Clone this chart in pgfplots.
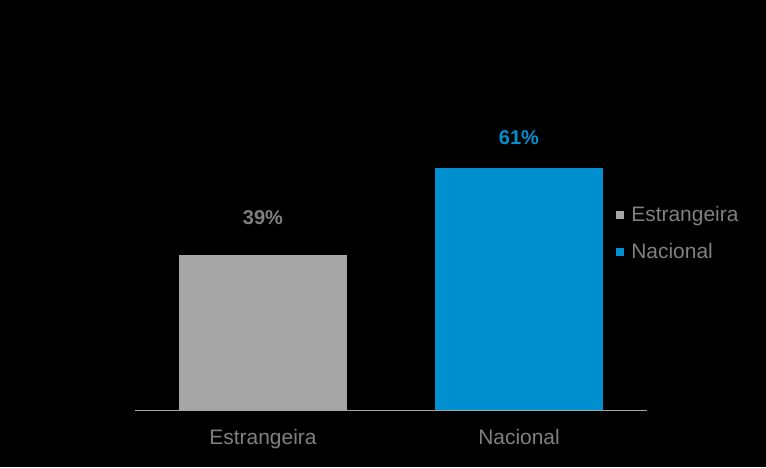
\documentclass[border=0pt]{standalone}
\usepackage{pgfplots}
\pgfplotsset{compat=1.18}
\usepackage{fontspec}
\setmainfont{Liberation Sans}
\definecolor{bargray}{HTML}{A6A6A6}
\definecolor{barblue}{HTML}{0090D0}
\definecolor{txtgray}{HTML}{808080}
\definecolor{linegray}{HTML}{A6A6A6}
\begin{document}
\begin{tikzpicture}
\path[use as bounding box, fill=black] (0,0) rectangle (574.5pt,350.25pt);
\begin{axis}[
  at={(101.25pt,42.75pt)}, anchor=south west,
  scale only axis, width=384pt, height=238.2pt,
  xmin=-0.5, xmax=1.5, ymin=0, ymax=80,
  ybar, bar width=126pt, bar shift=0pt,
  axis y line=none, axis x line*=bottom,
  axis line style={linegray, line width=0.6pt, -},
  xtick={0,1}, xticklabels={Estrangeira,Nacional},
  major tick length=0pt,
  xticklabel style={text=txtgray, font=\fontsize{15.7}{18}\selectfont, anchor=base},
  xticklabel shift=26pt,
  ytick=\empty,
  /pgf/number format/assume math mode=true,
  nodes near coords={\pgfmathprintnumber{\pgfplotspointmeta}\%},
  nodes near coords style={font=\bfseries\fontsize{15}{17}\selectfont, anchor=center},
  legend style={draw=none, fill=none, at={(0.939,0.65)}, anchor=north west,
    inner sep=0pt, row sep=11pt, text=txtgray,
    font=\fontsize{15.7}{18}\selectfont,
    /tikz/every odd column/.append style={column sep=3.5pt}},
  legend cell align=left,
  legend image code/.code={\fill[#1] (0pt,-3pt) rectangle (6pt,3pt);},
]
\addplot[fill=bargray, draw=none, nodes near coords style={text=txtgray, yshift=28.5pt}] coordinates {(0,39)};
\addlegendentry{Estrangeira}
\addplot[fill=barblue, draw=none, nodes near coords style={text=barblue, yshift=22.5pt}] coordinates {(1,61)};
\addlegendentry{Nacional}
\end{axis}
\end{tikzpicture}
\end{document}
